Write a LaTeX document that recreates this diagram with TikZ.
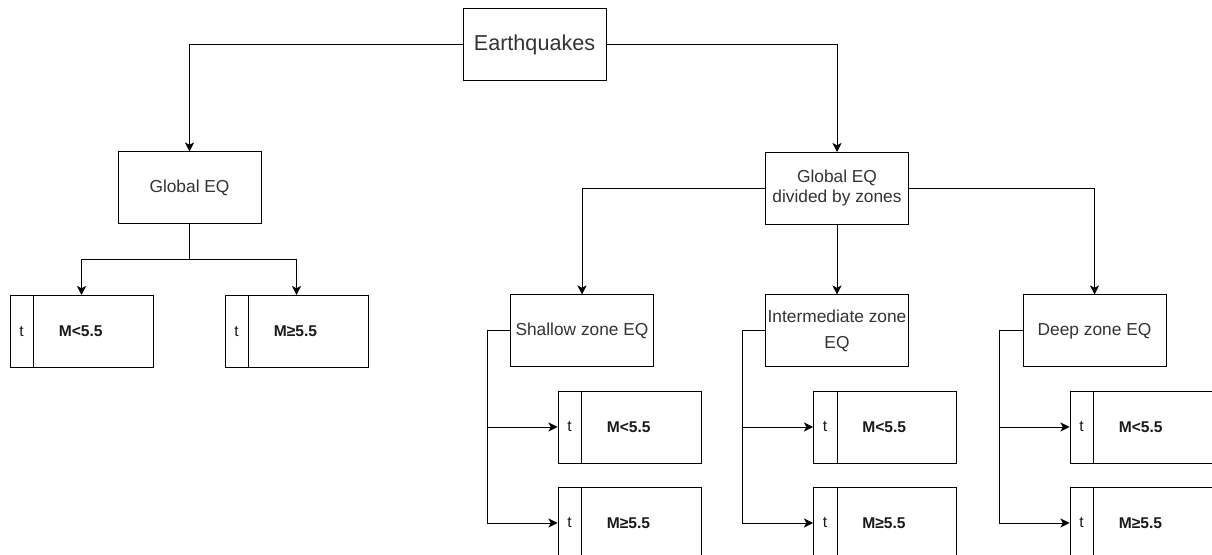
\documentclass[tikz,border=0pt]{standalone}
\usepackage{fontspec}
\setmainfont{Liberation Sans}
\usetikzlibrary{arrows.meta}
\definecolor{txt}{HTML}{333333}
\definecolor{dtxt}{HTML}{1A1A1A}
\tikzset{
  box/.style={draw=black, line width=0.75pt, rectangle, minimum width=107.25pt, minimum height=54pt, inner sep=0pt, text=txt},
  conn/.style={draw=black, line width=0.75pt},
  arr/.style={conn, -{Stealth[length=6.8pt,width=6.8pt,inset=1.8pt]}},
  big/.style={font=\fontsize{16.2}{19}\selectfont},
  mid/.style={font=\fontsize{13}{15}\selectfont, align=center},
  tlab/.style={text=dtxt, inner sep=0pt, font=\fontsize{11.7}{14}\selectfont},
  mlab/.style={text=dtxt, inner sep=0pt, font=\bfseries\fontsize{11.7}{14}\selectfont},
}
\newcommand{\tbox}[4]{%
  \node[box] (#1) at (#2,#3) {};
  \draw[conn] ([xshift=18pt]#1.north west) -- ([xshift=18pt]#1.south west);
  \node[tlab] (#1t) at ([xshift=9pt]#1.west) {t};
  \node[mlab, anchor=west] (#1m) at ([xshift=36.75pt]#1.west) {#4};
}
\begin{document}
\begin{tikzpicture}[x=0.75pt, y=-0.75pt]
\useasboundingbox (0,0) rectangle (1212,555);
\clip (0,0) rectangle (1212,555);
% main nodes
\node[box, big] (E) at (534.5,45) {Earthquakes};
\node[box, mid] (G) at (189.5,188) {Global EQ};
\node[box, mid, font=\fontsize{13}{15}\selectfont] (Z) at (837,188.5) {Global EQ\\divided by zones};
\node[box, mid] (S) at (582,331) {Shallow zone EQ};
\node[box, mid, font=\fontsize{13}{19.5}\selectfont] (I) at (837,331) {Intermediate zone\\EQ};
\node[box, mid] (D) at (1094.5,331) {Deep zone EQ};
% leaf boxes
\tbox{L1}{81.5}{331.5}{M<5.5}
\tbox{L2}{296.5}{331.5}{M≥5.5}
\tbox{S1}{629.5}{427}{M<5.5}
\tbox{S2}{629.5}{523}{M≥5.5}
\tbox{I1}{885}{427}{M<5.5}
\tbox{I2}{885}{523}{M≥5.5}
\tbox{D1}{1141.5}{427}{M<5.5}
\tbox{D2}{1141.5}{523}{M≥5.5}
% connector junctions
\coordinate (gb) at (189.5,260);
\coordinate (sv) at (487,331);
\coordinate (iv) at (742,331);
\coordinate (dv) at (999,331);
% connectors
\draw[arr] (E.west) -| (G.north);
\draw[arr] (E.east) -| (Z.north);
\draw[conn] (G.south) -- (gb);
\draw[arr] (gb) -| (L1.north);
\draw[arr] (gb) -| (L2.north);
\draw[arr] (Z.west) -| (S.north);
\draw[arr] (Z.east) -| (D.north);
\draw[arr] (Z.south) -- (I.north);
\draw[conn] (S.west) -- (sv);
\draw[arr] (sv) |- (S1.west);
\draw[arr] (sv) |- (S2.west);
\draw[conn] (I.west) -- (iv);
\draw[arr] (iv) |- (I1.west);
\draw[arr] (iv) |- (I2.west);
\draw[conn] (D.west) -- (dv);
\draw[arr] (dv) |- (D1.west);
\draw[arr] (dv) |- (D2.west);
\end{tikzpicture}
\end{document}
